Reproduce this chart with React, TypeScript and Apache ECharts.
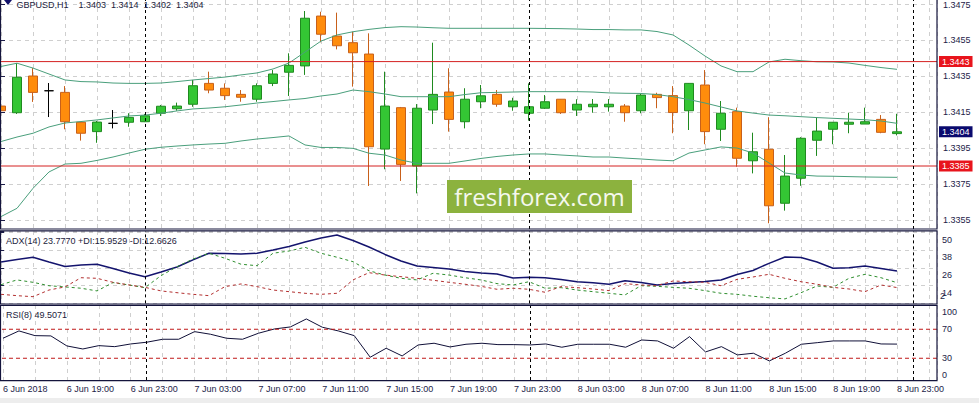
import React, { useEffect, useRef } from "react";
import * as echarts from "echarts";

// ---- Price candles (H1), index 0 = 6 Jun 15:00 ... index 56 = 8 Jun 23:00 ----
const opens = [1.34183,1.34146,1.34350,1.34268,1.34259,1.34093,1.34041,1.34087,1.34093,1.34096,1.34143,1.34168,1.34193,1.34309,1.34282,1.34248,1.34221,1.34309,1.34371,1.34406,1.34683,1.34572,1.34535,1.34472,1.33944,1.34174,1.33850,1.34161,1.34261,1.34096,1.34207,1.34248,1.34179,1.34143,1.34171,1.34221,1.34161,1.34179,1.34179,1.34183,1.34157,1.34248,1.34241,1.34157,1.34300,1.34054,1.34152,1.33879,1.33943,1.33643,1.33782,1.33993,1.34054,1.34082,1.34083,1.34109,1.34030];
const closes = [1.34157,1.34343,1.34259,1.34268,1.34096,1.34032,1.34094,1.34087,1.34120,1.34129,1.34182,1.34183,1.34296,1.34272,1.34241,1.34232,1.34296,1.34361,1.34409,1.34671,1.34582,1.34518,1.34479,1.33957,1.34183,1.33859,1.34171,1.34248,1.34109,1.34221,1.34240,1.34193,1.34211,1.34179,1.34207,1.34146,1.34193,1.34193,1.34193,1.34146,1.34244,1.34230,1.34147,1.34309,1.34041,1.34143,1.33893,1.33929,1.33629,1.33794,1.34004,1.34044,1.34093,1.34093,1.34096,1.34037,1.34040];
const lows = [1.34133,1.34139,1.34206,1.34122,1.34054,1.33991,1.33979,1.34059,1.34068,1.34094,1.34128,1.34157,1.34179,1.34254,1.34217,1.34207,1.34207,1.34294,1.34239,1.34356,1.34537,1.34498,1.34291,1.33739,1.33832,1.33767,1.33698,1.34083,1.34041,1.34059,1.34171,1.34179,1.34157,1.34102,1.34167,1.34139,1.34128,1.34146,1.34152,1.34096,1.34143,1.34171,1.34032,1.34050,1.33971,1.33989,1.33846,1.33809,1.33532,1.33602,1.33740,1.33906,1.33971,1.34032,1.34083,1.34032,1.34020];
const highs = [1.34294,1.34422,1.34394,1.34311,1.34294,1.34094,1.34100,1.34161,1.34143,1.34139,1.34189,1.34202,1.34328,1.34374,1.34309,1.34272,1.34309,1.34383,1.34476,1.34711,1.34707,1.34702,1.34596,1.34587,1.34374,1.34178,1.34194,1.34535,1.34393,1.34282,1.34300,1.34272,1.34229,1.34309,1.34244,1.34222,1.34221,1.34222,1.34222,1.34194,1.34250,1.34257,1.34294,1.34311,1.34383,1.34211,1.34174,1.34035,1.34121,1.33911,1.34010,1.34121,1.34094,1.34146,1.34174,1.34133,1.34140];

// ---- Bollinger-style bands ----
const bandUpper = [1.34403,1.34421,1.34394,1.34361,1.34328,1.34319,1.34317,1.34311,1.34309,1.34309,1.34311,1.34319,1.34328,1.34336,1.34344,1.34356,1.34367,1.34389,1.34422,1.34483,1.34544,1.34578,1.34596,1.34609,1.34619,1.34624,1.34622,1.34618,1.34615,1.34615,1.34615,1.34615,1.34615,1.34615,1.34614,1.34613,1.34611,1.34608,1.34608,1.34606,1.34606,1.34597,1.34578,1.34522,1.34461,1.34406,1.34374,1.34374,1.34428,1.34443,1.34435,1.34429,1.34428,1.34422,1.34409,1.34397,1.34387];
const bandMiddle = [1.33986,1.34011,1.34032,1.34067,1.34089,1.34097,1.34106,1.34117,1.34128,1.34133,1.34143,1.34156,1.34167,1.34172,1.34179,1.34189,1.34200,1.34208,1.34217,1.34225,1.34239,1.34250,1.34272,1.34263,1.34250,1.34235,1.34235,1.34235,1.34235,1.34247,1.34257,1.34259,1.34261,1.34263,1.34263,1.34263,1.34263,1.34261,1.34256,1.34254,1.34253,1.34247,1.34235,1.34219,1.34200,1.34178,1.34156,1.34144,1.34133,1.34129,1.34124,1.34119,1.34115,1.34111,1.34107,1.34100,1.34087];
const bandLower = [1.33569,1.33615,1.33726,1.33817,1.33861,1.33865,1.33881,1.33900,1.33922,1.33943,1.33954,1.33961,1.33967,1.33972,1.33976,1.33989,1.34000,1.34008,1.34017,1.33967,1.33953,1.33953,1.33948,1.33921,1.33911,1.33883,1.33865,1.33865,1.33865,1.33878,1.33892,1.33903,1.33911,1.33917,1.33917,1.33911,1.33906,1.33900,1.33900,1.33894,1.33889,1.33883,1.33879,1.33922,1.33939,1.33956,1.33950,1.33922,1.33867,1.33811,1.33800,1.33794,1.33793,1.33791,1.33789,1.33788,1.33787];

// ---- ADX(14) ----
const adx = [29.9,31.6,33.1,29.9,26.9,27.9,28.4,25.5,22.5,20.0,23.2,26.5,31.3,35.8,35.6,35.3,35.8,38.0,40.4,43.4,46.1,48.1,44.4,40.0,35.0,30.6,27.2,26.2,25.2,23.5,22.5,21.8,19.1,19.6,19.3,18.1,16.6,15.9,14.9,17.3,16.1,14.4,15.4,16.1,16.8,17.8,21.5,24.2,29.0,33.3,32.9,29.9,25.7,26.1,27.2,25.5,23.777];
const plusDI = [14.6,17.8,16.2,13.9,13.1,12.2,10.4,16.0,14.4,12.6,20.7,26.7,31.9,35.8,32.4,28.4,27.4,35.8,37.3,39.8,35.8,33.1,30.1,24.0,21.1,18.9,17.8,22.3,21.1,19.3,17.8,15.3,14.4,16.6,12.2,12.6,11.0,9.9,8.8,7.7,13.9,13.5,12.8,12.2,10.6,8.8,8.1,6.8,5.8,5.0,9.2,13.7,12.8,18.9,21.6,19.3,15.95];
const minusDI = [8.1,7.2,6.5,11.0,13.1,19.3,18.9,16.2,14.4,12.8,10.4,9.2,8.1,7.2,13.3,15.1,13.3,11.0,9.9,8.8,8.1,8.8,17.8,22.7,21.1,20.0,18.9,17.6,16.2,14.9,13.5,11.5,12.2,11.5,9.5,13.3,12.6,11.7,10.6,15.3,14.4,13.9,17.1,16.6,16.2,13.9,18.2,19.8,21.6,18.9,16.6,14.9,12.8,11.7,9.9,14.4,12.66];

// ---- RSI(8) ----
const rsi = [57.6,67.7,61.2,60.8,47.0,42.8,47.4,46.0,49.7,52.1,56.2,56.2,66.7,63.1,57.6,56.2,64.5,70.4,73.2,84.2,72.8,67.7,61.2,31.4,43.8,33.2,48.3,50.7,45.6,49.3,50.7,48.8,48.8,48.3,49.7,45.2,49.3,49.3,49.3,45.2,55.2,53.9,43.8,59.8,38.7,46.0,34.6,36.9,26.3,36.9,49.3,51.5,53.9,53.9,53.9,49.7,49.5071];

// ---- Axis / reference values ----
const timeTickLabels = ["6 Jun 2018","6 Jun 19:00","6 Jun 23:00","7 Jun 03:00","7 Jun 07:00","7 Jun 11:00","7 Jun 15:00","7 Jun 19:00","7 Jun 23:00","8 Jun 03:00","8 Jun 07:00","8 Jun 11:00","8 Jun 15:00","8 Jun 19:00","8 Jun 23:00"];
const daySeparators = [9, 33, 57];
const redLevels = [1.3443, 1.3385];
const bidPrice = 1.3404;
const rsiLevels = [70, 30];
const rsiLabels = [100, 70, 30, 0];
const adxLabels = [50, 38, 26, 14, 2];
const headerValues = ["1.3403", "1.3414", "1.3402", "1.3404"];

const FONT = "'Liberation Sans', Arial, sans-serif";
const AXC = "#1c1c48";
const GRIDC = "#cfcfcf";
const FRAME = "#14143c";
const X_MIN_LINE = -0.0625; // left frame edge in bar units
const X_MAX = 58.5;

export default function App() {
  const ref = useRef<HTMLDivElement>(null);
  useEffect(() => {
    const chart = echarts.init(ref.current!, null, { renderer: "svg" });

    const xAxisFor = (gridIndex: number, labels: boolean) => ({
      type: "value",
      gridIndex,
      min: 0,
      max: X_MAX,
      interval: 2,
      show: gridIndex !== 1,
      axisLine: { show: false },
      axisTick: { show: false },
      splitLine: { show: gridIndex !== 1, lineStyle: { color: GRIDC, type: [4, 4], width: 1 } },
      axisLabel: labels
        ? {
            show: true,
            align: "left",
            margin: 4,
            color: AXC,
            fontSize: 9,
            fontFamily: FONT,
            showMinLabel: true,
            showMaxLabel: true,
            hideOverlap: false,
            formatter: (v: number) => {
              const k = Math.round(v);
              if (Math.abs(v - k) > 1e-6 || k % 4 !== 0) return "";
              return timeTickLabels[k / 4] ?? "";
            },
          }
        : { show: false },
    });

    const sepMarkLine = () => ({
      silent: true,
      symbol: ["none", "none"],
      label: { show: false },
      lineStyle: { color: "#000000", type: [3, 3], width: 1 },
      data: daySeparators.map((i) => ({ xAxis: i })),
    });

    const tagLabel = (bg: string, text: string) => ({
      show: true,
      distance: 2,
      formatter: text,
      backgroundColor: bg,
      color: "#ffffff",
      padding: [1, 3, 0, 3],
      fontSize: 9,
      lineHeight: 10,
      fontFamily: FONT,
    });

    const richStyle = {
      d: { padding: [15, 0, 0, 0], fontSize: 9, color: AXC, fontFamily: FONT },
      u: { padding: [0, 0, 15, 0], fontSize: 9, color: AXC, fontFamily: FONT },
      dr: { padding: [9, 0, 0, 0], fontSize: 9, color: AXC, fontFamily: FONT },
      ur: { padding: [0, 0, 10, 0], fontSize: 9, color: AXC, fontFamily: FONT },
      m: { fontSize: 9, color: AXC, fontFamily: FONT },
    };

    const lineSeries = (data: number[], idx: number, color: string, width: number, type: any) => ({
      type: "line",
      xAxisIndex: idx,
      yAxisIndex: idx,
      data: data.map((v, i) => [i, v]),
      showSymbol: false,
      symbol: "none",
      clip: false,
      lineStyle: { color, width, type },
      silent: true,
    });

    // horizontal level drawn as a two-point line series across the panel, with optional end tag
    const levelSeries = (idx: number, lv: number, color: string, type: any, width: number, endLabel?: any) => ({
      type: "line",
      xAxisIndex: idx,
      yAxisIndex: idx,
      data: [[X_MIN_LINE, lv], [X_MAX, lv]],
      showSymbol: false,
      symbol: "none",
      clip: false,
      silent: true,
      z: 3,
      lineStyle: { color, type, width },
      endLabel: endLabel ?? { show: false },
    });

    const option: any = {
      animation: false,
      backgroundColor: "#ffffff",
      grid: [
        { left: 1, top: 0, width: 936, height: 229 },
        { left: 1, top: 4, width: 936, height: 216 },
        { left: 1, top: 231, width: 936, height: 72.37 },
        { left: 1, top: 305, width: 936, height: 75 },
      ],
      xAxis: [xAxisFor(0, false), xAxisFor(1, false), xAxisFor(2, false), xAxisFor(3, true)],
      yAxis: [
        { type: "value", gridIndex: 0, min: 1.335, max: 1.3350 + 229 / 18000, show: false },
        {
          type: "value",
          gridIndex: 1,
          position: "right",
          min: 1.3355,
          max: 1.3475,
          interval: 0.002,
          axisLine: { show: false },
          axisTick: { show: true, length: 4, lineStyle: { color: AXC } },
          splitLine: { show: true, lineStyle: { color: GRIDC, type: [4, 4], width: 1 } },
          axisLabel: {
            margin: 6,
            color: AXC,
            fontSize: 9,
            fontFamily: FONT,
            showMinLabel: true,
            showMaxLabel: true,
            hideOverlap: false,
            formatter: (v: number) => v.toFixed(4),
          },
        },
        {
          type: "value",
          gridIndex: 2,
          position: "right",
          min: 2,
          max: 50.8,
          interval: 12,
          axisLine: { show: false },
          axisTick: { show: true, length: 3, lineStyle: { color: AXC } },
          splitLine: { show: true, lineStyle: { color: GRIDC, type: [4, 4], width: 1 } },
          axisLabel: {
            margin: 5,
            showMinLabel: false,
            showMaxLabel: true,
            hideOverlap: false,
            rich: richStyle,
            formatter: (v: number) => {
              const k = Math.round(v);
              if (Math.abs(v - k) > 1e-6 || !adxLabels.includes(k) || k === 2) return "";
              return `{d|${k}}`;
            },
          },
        },
        {
          type: "value",
          gridIndex: 3,
          position: "right",
          min: 0,
          max: 103.45,
          interval: 10,
          axisLine: { show: false },
          axisTick: { show: false },
          splitLine: { show: false },
          axisLabel: {
            margin: 5,
            showMinLabel: true,
            showMaxLabel: true,
            hideOverlap: false,
            rich: richStyle,
            formatter: (v: number) => {
              const k = Math.round(v);
              if (Math.abs(v - k) > 1e-6 || !rsiLabels.includes(k)) return "";
              if (k === 100) return `{dr|${k}}`;
              if (k === 0) return `{ur|${k}}`;
              return `{m|${k}}`;
            },
          },
        },
        // ADX minimum label "2" on its own axis (it overlaps "14" in the original screenshot)
        {
          type: "value",
          gridIndex: 2,
          position: "right",
          offset: -2,
          min: 2,
          max: 50.8,
          interval: 48.8,
          axisLine: { show: false },
          axisTick: { show: false },
          splitLine: { show: false },
          axisLabel: {
            margin: 5,
            showMinLabel: true,
            showMaxLabel: false,
            hideOverlap: false,
            rich: richStyle,
            formatter: (v: number) => (Math.abs(v - adxLabels[4]) < 1e-6 ? `{u|${adxLabels[4]}}` : ""),
          },
        },
      ],
      series: [
        lineSeries(bandUpper, 0, "#4a9f7c", 1, "solid"),
        lineSeries(bandMiddle, 0, "#4a9f7c", 1, "solid"),
        lineSeries(bandLower, 0, "#4a9f7c", 1, "solid"),
        ...redLevels.map((lv) =>
          levelSeries(0, lv, "#d42020", "solid", 1, tagLabel("#e8141c", lv.toFixed(4)))
        ),
        levelSeries(0, bidPrice, "rgba(0,0,0,0)", "solid", 0, tagLabel("#0a0a6e", bidPrice.toFixed(4))),
        {
          type: "candlestick",
          xAxisIndex: 0,
          yAxisIndex: 0,
          barWidth: 9,
          clip: false,
          silent: true,
          data: opens.map((o, i) => [i, o, closes[i], lows[i], highs[i]]),
          encode: { x: 0, y: [1, 2, 3, 4] },
          itemStyle: {
            color: "#34c634",
            color0: "#ff8c0c",
            borderColor: "#1f8a1f",
            borderColor0: "#c8601a",
            borderColorDoji: "#000000",
            borderWidth: 1,
          },
          markLine: sepMarkLine(),
        },
        { ...lineSeries(adx, 2, "#14146e", 1.5, "solid"), markLine: sepMarkLine() },
        lineSeries(plusDI, 2, "#2f8f2f", 1, [3, 3]),
        lineSeries(minusDI, 2, "#b33030", 1, [3, 3]),
        { ...lineSeries(rsi, 3, "#101038", 1, "solid"), markLine: sepMarkLine() },
        ...rsiLevels.map((lv) => levelSeries(3, lv, "#c01818", [4, 3], 1)),
      ],
      graphic: [
        { type: "rect", z: 100, shape: { x: 0.5, y: -1, width: 936.5, height: 230 }, style: { fill: "none", stroke: FRAME, lineWidth: 1.2 } },
        { type: "rect", z: 100, shape: { x: 0.5, y: 230.8, width: 936.5, height: 73.2 }, style: { fill: "none", stroke: FRAME, lineWidth: 1.2 } },
        { type: "rect", z: 100, shape: { x: 0.5, y: 305.3, width: 936.5, height: 75.4 }, style: { fill: "none", stroke: FRAME, lineWidth: 1.2 } },
        { type: "rect", z: 100, shape: { x: 0, y: 398, width: 979, height: 5 }, style: { fill: "#ededed" } },
        { type: "polygon", z: 101, shape: { points: [[4, 0], [12, 0], [8, 5]] }, style: { fill: "#10106a" } },
        {
          type: "text",
          z: 101,
          x: 16.5,
          y: 5,
          style: {
            text: "GBPUSD,H1\u00a0\u00a0\u00a0\u00a0" + headerValues.join("\u00a0\u00a0"),
            fill: "#1c1c3c",
            fontSize: 9,
            fontFamily: FONT,
            align: "left",
            verticalAlign: "middle",
          },
        },
        {
          type: "text",
          z: 101,
          x: 6,
          y: 240.7,
          style: { text: "ADX(14) 23.7770 +DI:15.9529 -DI:12.6626", fill: "#1c1c3c", fontSize: 9, fontFamily: FONT, align: "left", verticalAlign: "middle" },
        },
        {
          type: "text",
          z: 101,
          x: 6,
          y: 315,
          style: { text: "RSI(8) 49.5071", fill: "#1c1c3c", fontSize: 9, fontFamily: FONT, align: "left", verticalAlign: "middle" },
        },
        { type: "rect", z: 102, shape: { x: 447, y: 180, width: 185, height: 33 }, style: { fill: "#8cb23e" } },
        {
          type: "text",
          z: 103,
          x: 539.5,
          y: 196.5,
          style: { text: "freshforex.com", fill: "#f5f8ee", fontSize: 24, fontFamily: "'Open Sans', sans-serif", align: "center", verticalAlign: "middle" },
        },
      ],
    };

    chart.setOption(option);
    return () => chart.dispose();
  }, []);

  return (
    <div
      ref={ref}
      style={{ position: "fixed", left: 0, top: 0, width: 979, height: 403, background: "#ffffff" }}
    />
  );
}
